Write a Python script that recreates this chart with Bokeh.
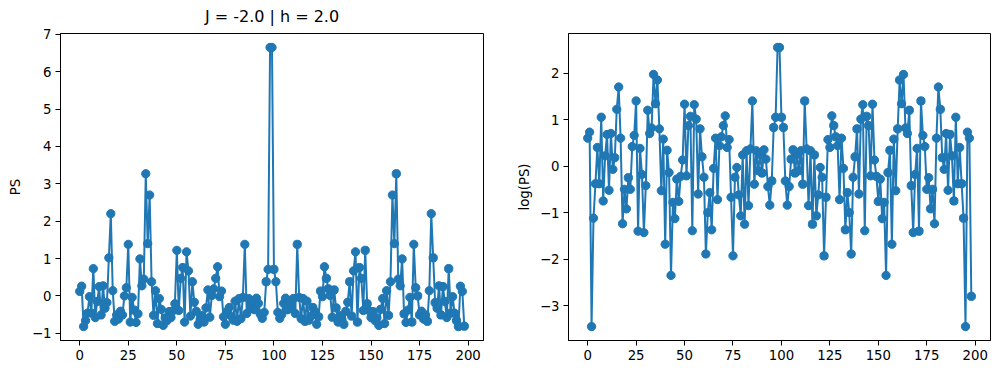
from bokeh.plotting import figure
from bokeh.layouts import row
from bokeh.models import Range1d, FixedTicker, ColumnDataSource
from bokeh.embed import file_html
from bokeh.resources import INLINE

# ---- data ----
k_index = list(range(199))

ps_values = [
    0.12, 0.26, -0.82, -0.66, -0.46, -0.02, -0.46, 0.73, -0.58, -0.15,
    0.25, -0.51, 0.27, -0.33, -0.18, 1.02, 2.20, 0.14, -0.68, -0.51,
    -0.62, -0.41, -0.51, 0.00, 0.22, 1.38, -0.70, -0.04, -0.38, -0.71,
    -0.48, 0.99, 0.27, 0.45, 3.27, 1.40, 2.70, 0.38, -0.52, 0.14,
    -0.74, -0.07, -0.36, -0.79, -0.59, -0.66, -0.42, -0.58, -0.40, -0.21,
    1.22, -0.39, 0.47, 0.76, -0.70, 1.18, 0.67, -0.54, 0.38, -0.17,
    -0.41, -0.76, -0.64, -0.53, -0.70, -0.32, 0.16, -0.57, 0.01, 0.19,
    0.47, 0.78, -0.02, 0.13, -0.56, -0.76, -0.41, -0.31, -0.54, -0.65,
    -0.14, -0.68, -0.07, -0.61, -0.04, 1.38, -0.47, -0.07, -0.34, -0.13,
    -0.37, -0.06, -0.20, -0.49, -0.60, -0.44, 0.38, 0.71, 6.65,
    6.65, 0.71, 0.38, -0.44, -0.60, -0.49, -0.20, -0.06, -0.37, -0.13,
    -0.34, -0.07, -0.47, 1.38, -0.04, -0.61, -0.07, -0.68, -0.14, -0.65,
    -0.54, -0.31, -0.41, -0.76, -0.56, 0.13, -0.02, 0.78, 0.47, 0.19,
    0.01, -0.57, 0.16, -0.32, -0.70, -0.53, -0.64, -0.76, -0.41, -0.17,
    0.38, -0.54, 0.67, 1.18, -0.70, 0.76, 0.47, -0.39, 1.22, -0.21,
    -0.40, -0.58, -0.42, -0.66, -0.59, -0.79, -0.36, -0.07, -0.74, 0.14,
    -0.52, 0.38, 2.70, 1.40, 3.27, 0.45, 0.27, 0.99, -0.48, -0.71,
    -0.38, -0.04, -0.70, 1.38, 0.22, 0.00, -0.51, -0.41, -0.62, -0.51,
    -0.68, 0.14, 2.20, 1.02, -0.18, -0.33, 0.27, -0.51, 0.25, -0.15,
    -0.58, 0.73, -0.46, -0.02, -0.46, -0.66, -0.82, 0.26, 0.12, -0.81,
]

log_ps_values = [
    0.60, 0.73, -3.45, -1.12, -0.38, 0.40, -0.38, 1.05, -0.75, 0.22,
    0.68, -0.52, 0.70, -0.07, 0.18, 1.22, 1.70, 0.60, -1.24, -0.50,
    -0.92, -0.25, -0.50, 0.42, 0.66, 1.40, -1.40, 0.38, -0.18, -1.43,
    -0.42, 1.20, 0.70, 0.82, 1.97, 1.34, 1.85, 0.80, -0.53, 0.58,
    -1.68, 0.34, -0.14, -2.35, -0.78, -1.13, -0.28, -0.76, -0.22, 0.13,
    1.33, -0.21, 0.87, 1.07, -1.39, 1.32, 1.01, -0.60, 0.80, 0.20,
    -0.24, -1.89, -1.00, -0.57, -1.37, -0.05, 0.60, -0.72, 0.44, 0.63,
    0.87, 1.08, 0.40, 0.57, -0.67, -1.93, -0.24, -0.03, -0.62, -1.07,
    0.24, -1.25, 0.33, -0.85, 0.37, 1.40, -0.39, 0.33, -0.10, 0.25,
    -0.15, 0.35, 0.15, -0.44, -0.84, -0.32, 0.83, 1.05, 2.55,
    2.55, 1.05, 0.83, -0.32, -0.84, -0.44, 0.15, 0.35, -0.15, 0.25,
    -0.10, 0.33, -0.39, 1.40, 0.37, -0.85, 0.33, -1.25, 0.24, -1.07,
    -0.62, -0.03, -0.24, -1.93, -0.67, 0.57, 0.40, 1.08, 0.87, 0.63,
    0.44, -0.72, 0.60, -0.05, -1.37, -0.57, -1.00, -1.89, -0.24, 0.20,
    0.80, -0.60, 1.01, 1.32, -1.39, 1.07, 0.87, -0.21, 1.33, 0.13,
    -0.22, -0.76, -0.28, -1.13, -0.78, -2.35, -0.14, 0.34, -1.68, 0.58,
    -0.53, 0.80, 1.85, 1.34, 1.97, 0.82, 0.70, 1.20, -0.42, -1.43,
    -0.18, 0.38, -1.40, 1.40, 0.66, 0.42, -0.50, -0.25, -0.92, -0.50,
    -1.24, 0.60, 1.70, 1.22, 0.18, -0.07, 0.70, -0.52, 0.68, 0.22,
    -0.75, 1.05, -0.38, 0.40, -0.38, -1.12, -3.45, 0.73, 0.60, -2.80,
]

x_ticks = [0, 25, 50, 75, 100, 125, 150, 175, 200]
ps_ticks = [-1, 0, 1, 2, 3, 4, 5, 6, 7]
log_ticks = [-3, -2, -1, 0, 1, 2]

title_text = "J = -2.0 | h = 2.0"
ps_label = "PS"
log_label = "log(PS)"

BLUE = "#1f77b4"
FONT = "DejaVu Sans"


def padded(vals, frac=0.05):
    lo, hi = min(vals), max(vals)
    d = (hi - lo) * frac
    return Range1d(lo - d, hi + d)


def minus(t):
    return str(t).replace("-", "\u2212")


def make(yvals, yticks, ylabel, width, left, right, standoff, title=None):
    p = figure(width=width, height=374, output_backend="svg", toolbar_location=None,
               x_range=padded(k_index), y_range=padded(yvals),
               min_border_left=left, min_border_right=right,
               min_border_top=33, min_border_bottom=34)
    p.background_fill_color = "white"
    p.border_fill_color = "white"
    p.outline_line_color = "black"
    p.outline_line_width = 1
    p.outline_line_alpha = 1
    p.xgrid.visible = False
    p.ygrid.visible = False
    src = ColumnDataSource(dict(x=k_index, y=yvals))
    p.line("x", "y", source=src, line_color=BLUE, line_width=2)
    p.scatter("x", "y", source=src, size=8.3, fill_color=BLUE, line_color=BLUE)
    p.xaxis.ticker = FixedTicker(ticks=x_ticks)
    p.yaxis.ticker = FixedTicker(ticks=yticks)
    p.yaxis.major_label_overrides = {t: minus(t) for t in yticks if t < 0}
    for ax in (p.xaxis[0], p.yaxis[0]):
        ax.major_tick_out = 5
        ax.major_tick_in = 0
        ax.minor_tick_line_color = None
        ax.axis_line_color = "black"
        ax.major_tick_line_color = "black"
        ax.major_label_text_font = FONT
        ax.major_label_text_font_size = "13.3px"
        ax.major_label_text_color = "black"
        ax.major_label_standoff = 4
    p.yaxis.axis_label = ylabel
    p.yaxis.axis_label_text_font = FONT
    p.yaxis.axis_label_text_font_size = "13.3px"
    p.yaxis.axis_label_text_font_style = "normal"
    p.yaxis.axis_label_text_color = "black"
    p.yaxis.axis_label_standoff = standoff
    if title:
        p.title.text = title
        p.title.align = "center"
        p.title.vertical_align = "top"
        p.title.text_font = FONT
        p.title.text_font_size = "16px"
        p.title.text_font_style = "normal"
        p.title.text_color = "black"
        p.title.standoff = 12
    return p


p1 = make(ps_values, ps_ticks, ps_label, 493, 60, 10, 6, title_text)
p2 = make(log_ps_values, log_ticks, log_label, 506, 75, 9, 5)

layout = row(p1, p2)
open("out.html", "w").write(file_html(layout, INLINE))
